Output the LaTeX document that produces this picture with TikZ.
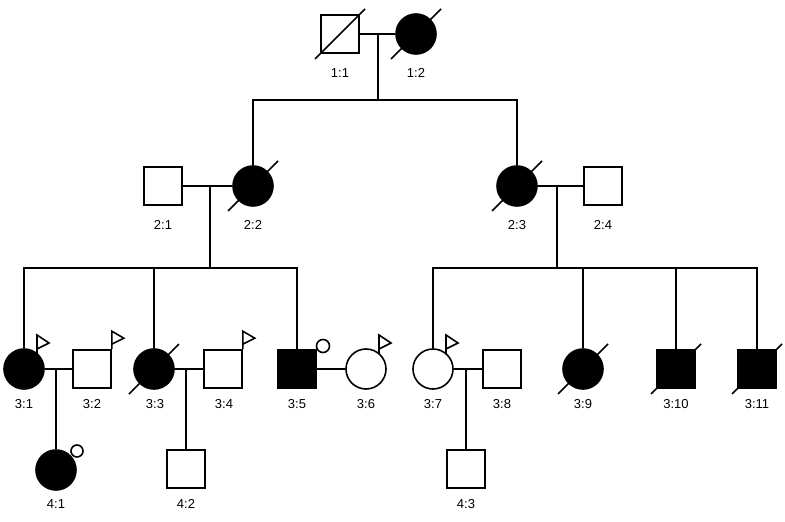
\documentclass[tikz,border=0pt]{standalone}
\usepackage{fontspec}
\setmainfont{Liberation Sans}
\begin{document}
\begin{tikzpicture}[x=1pt,y=-1pt,line width=1.6pt,
  m/.style={draw,rectangle,minimum size=38pt,inner sep=0pt,fill=white},
  f/.style={draw,circle,minimum size=40pt,inner sep=0pt,fill=white},
  aff/.style={fill=black},
  lab/.style={font=\fontsize{13}{13}\selectfont,inner sep=0pt},
  ln/.style={line width=1.6pt}]
\useasboundingbox (0,0) rectangle (785,522);
\newcommand\dead[1]{\draw[ln] ([shift={(-25,25)}]#1.center) -- ([shift={(25,-25)}]#1.center);}
\newcommand\cflag[1]{\draw[ln,line join=miter] ([shift={(13,-15)}]#1.center) -- ([shift={(13,-34)}]#1.center) -- ([shift={(25,-26)}]#1.center) -- ([shift={(13,-20)}]#1.center);}
\newcommand\sflag[1]{\draw[ln,line join=miter] (#1.north east) -- ([shift={(0,-18)}]#1.north east) -- ([shift={(12,-11)}]#1.north east) -- ([shift={(0,-5)}]#1.north east);}
% gen 1
\node[m] (a1) at (340,34) {};
\node[f,aff] (a2) at (416,34) {};
\dead{a1}\dead{a2}
\node[lab] at (340,73) {1:1};
\node[lab] at (416,73) {1:2};
% gen 2
\node[m] (b1) at (163,186) {};
\node[f,aff] (b2) at (253,186) {};
\node[f,aff] (b3) at (517,186) {};
\node[m] (b4) at (603,186) {};
\dead{b2}\dead{b3}
\node[lab] at (163,225) {2:1};
\node[lab] at (253,225) {2:2};
\node[lab] at (517,225) {2:3};
\node[lab] at (603,225) {2:4};
% gen 3
\node[f,aff] (c1) at (24,369) {};
\node[m] (c2) at (92,369) {};
\node[f,aff] (c3) at (154,369) {};
\node[m] (c4) at (223,369) {};
\node[m,aff] (c5) at (297,369) {};
\node[f] (c6) at (366,369) {};
\node[f] (c7) at (433,369) {};
\node[m] (c8) at (502,369) {};
\node[f,aff] (c9) at (583,369) {};
\node[m,aff] (c10) at (676,369) {};
\node[m,aff] (c11) at (757,369) {};
\dead{c3}\dead{c9}\dead{c10}\dead{c11}
\cflag{c1}\sflag{c2}\sflag{c4}\cflag{c6}\cflag{c7}
\node[draw,circle,minimum size=13pt,inner sep=0pt] (s5) at (323,346) {};
\foreach \n/\x in {1/24,2/92,3/155,4/224,5/297,6/366,7/433,8/502,9/583,10/676,11/757}
  \node[lab] at (\x,404) {3:\n};
% gen 4
\node[f,aff] (d1) at (56,470) {};
\node[m] (d2) at (186,469) {};
\node[m] (d3) at (466,469) {};
\node[draw,circle,minimum size=12pt,inner sep=0pt] (s1) at (77,451) {};
\node[lab] at (56,504) {4:1};
\node[lab] at (186,504) {4:2};
\node[lab] at (466,504) {4:3};
% connectors
\draw (a1.east) -- (a2.west);
\coordinate (ma) at (378,34); \coordinate (sa) at (378,100);
\draw (ma) -- (sa);
\draw (b2.north) |- (sa) -| (b3.north);
\draw (b1.east) -- (b2.west);
\coordinate (mb) at (210,186); \coordinate (sb) at (210,268);
\draw (mb) -- (sb);
\draw (c1.north) |- (sb) -| (c5.north);
\draw (c3.north) -- (c3.north |- sb);
\draw (b3.east) -- (b4.west);
\coordinate (mc) at (557,186); \coordinate (sc) at (557,268);
\draw (mc) -- (sc);
\draw (c7.north) |- (sc) -| (c11.north);
\draw (c9.north) -- (c9.north |- sc);
\draw (c10.north) -- (c10.north |- sc);
\draw (c1.east) -- (c2.west);
\draw (c3.east) -- (c4.west);
\draw (c5.east) -- (c6.west);
\draw (c7.east) -- (c8.west);
\draw (56,369) -- (d1.north);
\draw (186,369) -- (d2.north);
\draw (466,369) -- (d3.north);
\end{tikzpicture}
\end{document}
